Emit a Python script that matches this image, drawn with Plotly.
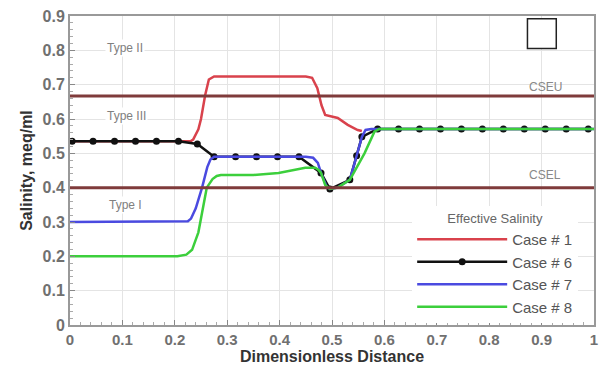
import plotly.graph_objects as go

# ---- data ----
x_case1 = [0.0, 0.23, 0.235, 0.245, 0.25, 0.258, 0.265, 0.275, 0.45, 0.462, 0.472, 0.48, 0.487, 0.5, 0.511, 0.53, 0.549, 0.557]
y_case1 = [0.535, 0.535, 0.54, 0.57, 0.60, 0.67, 0.715, 0.724, 0.724, 0.72, 0.69, 0.64, 0.612, 0.607, 0.603, 0.583, 0.568, 0.565]

x_case6 = [0.004, 0.044, 0.085, 0.125, 0.165, 0.207, 0.243, 0.275, 0.316, 0.356, 0.396, 0.437, 0.479, 0.496, 0.534, 0.547, 0.557, 0.587,
           0.627, 0.667, 0.707, 0.747, 0.787, 0.827, 0.867, 0.907, 0.947, 0.989]
y_case6 = [0.535, 0.535, 0.535, 0.535, 0.535, 0.535, 0.527, 0.49, 0.49, 0.49, 0.49, 0.49, 0.443, 0.396, 0.423, 0.493, 0.548, 0.571,
           0.571, 0.571, 0.571, 0.571, 0.571, 0.571, 0.571, 0.571, 0.571, 0.571]

x_case7 = [0.0, 0.215, 0.225, 0.231, 0.24, 0.252, 0.262, 0.268, 0.275, 0.45, 0.464, 0.473, 0.479, 0.49, 0.496, 0.511, 0.534, 0.547, 0.557, 0.564, 0.575, 1.0]
y_case7 = [0.30, 0.30, 0.302, 0.31, 0.34, 0.40, 0.46, 0.482, 0.49, 0.49, 0.487, 0.472, 0.443, 0.402, 0.396, 0.40, 0.423, 0.493, 0.548, 0.568, 0.571, 0.571]

x_case8 = [0.0, 0.205, 0.222, 0.233, 0.245, 0.261, 0.272, 0.28, 0.288, 0.35, 0.398, 0.449, 0.468, 0.474, 0.479, 0.487, 0.496, 0.511, 0.534, 0.562, 0.581, 0.59, 1.0]
y_case8 = [0.20, 0.20, 0.205, 0.219, 0.27, 0.40, 0.425, 0.434, 0.437, 0.437, 0.443, 0.458, 0.458, 0.452, 0.443, 0.408, 0.396, 0.40, 0.423, 0.50, 0.563, 0.571, 0.571]

cseu = 0.667
csel = 0.40

x_ticks = [0, 0.1, 0.2, 0.3, 0.4, 0.5, 0.6, 0.7, 0.8, 0.9, 1]
x_ticktext = ["0", "0.1", "0.2", "0.3", "0.4", "0.5", "0.6", "0.7", "0.8", "0.9", "1"]
y_ticks = [0, 0.1, 0.2, 0.3, 0.4, 0.5, 0.6, 0.7, 0.8, 0.9]
y_ticktext = ["0", "0.1", "0.2", "0.3", "0.4", "0.5", "0.6", "0.7", "0.8", "0.9"]

region_labels = ["Type II", "Type III", "Type I"]
region_x = [0.105, 0.107, 0.105]
region_y = [0.807, 0.609, 0.35]
limit_labels = ["CSEU", "CSEL"]
limit_x = [0.907, 0.907]
limit_y = [0.694, 0.437]

# ---- figure ----
FONT = "Liberation Sans, Arial, sans-serif"
fig = go.Figure()

# limit lines
fig.add_shape(type="line", xref="x", yref="y", x0=0, x1=1, y0=cseu, y1=cseu,
              line=dict(color="#7f3b3b", width=3), layer="above")
fig.add_shape(type="line", xref="x", yref="y", x0=0, x1=1, y0=csel, y1=csel,
              line=dict(color="#7f3b3b", width=3), layer="above")

fig.add_trace(go.Scatter(x=x_case1, y=y_case1, mode="lines", name="Case # 1",
                         line=dict(color="#d9424c", width=2.5)))
fig.add_trace(go.Scatter(x=x_case6, y=y_case6, mode="lines+markers", name="Case # 6",
                         line=dict(color="#111111", width=2.5),
                         marker=dict(color="#111111", size=7)))
fig.add_trace(go.Scatter(x=x_case7, y=y_case7, mode="lines", name="Case # 7",
                         line=dict(color="#4a4ae0", width=2.5)))
fig.add_trace(go.Scatter(x=x_case8, y=y_case8, mode="lines", name="Case # 8",
                         line=dict(color="#3ccf3c", width=2.5)))

for t, xx, yy in zip(region_labels, region_x, region_y):
    fig.add_annotation(x=xx, y=yy, text=t, showarrow=False, xref="x", yref="y",
                       font=dict(family=FONT, size=12, color="#808080"), bgcolor="white")
for t, xx, yy in zip(limit_labels, limit_x, limit_y):
    fig.add_annotation(x=xx, y=yy, text=t, showarrow=False, xref="x", yref="y",
                       font=dict(family=FONT, size=12, color="#888888"))

# empty square box top-right
fig.add_shape(type="rect", xref="x", yref="y", x0=0.873, x1=0.928, y0=0.805, y1=0.892,
              line=dict(color="#222222", width=1.5), fillcolor="white")

fig.update_layout(
    width=603, height=365,
    margin=dict(l=70, r=5, t=16, b=40),
    paper_bgcolor="white", plot_bgcolor="white",
    font=dict(family=FONT),
    showlegend=True,
    legend=dict(
        x=0.653, y=0.385, xanchor="left", yanchor="top",
        bgcolor="white", borderwidth=0,
        itemwidth=90,
        font=dict(family=FONT, size=15, color="#555555"),
        title=dict(text="Effective Salinity", side="top center",
                   font=dict(family=FONT, size=13, color="#666666")),
        tracegroupgap=0,
    ),
)

fig.update_xaxes(
    range=[0, 1], tickvals=x_ticks, ticktext=x_ticktext,
    showgrid=True, gridcolor="#e4e4e4", gridwidth=1,
    ticks="inside", ticklen=5, tickcolor="#888888",
    minor=dict(ticks="inside", dtick=0.02, ticklen=3, tickcolor="#aaaaaa", showgrid=False),
    showline=True, linecolor="#999999", linewidth=2, mirror=True,
    tickfont=dict(family=FONT, size=15, color="#707070", weight="bold"),
    title=dict(text="<b>Dimensionless Distance</b>", standoff=1,
               font=dict(family=FONT, size=16, color="#333333")),
    zeroline=False,
)
fig.update_yaxes(
    range=[0, 0.9], tickvals=y_ticks, ticktext=y_ticktext,
    showgrid=True, gridcolor="#e4e4e4", gridwidth=1,
    ticks="inside", ticklen=5, tickcolor="#888888",
    minor=dict(ticks="inside", dtick=0.02, ticklen=3, tickcolor="#aaaaaa", showgrid=False),
    showline=True, linecolor="#999999", linewidth=2, mirror=True,
    tickfont=dict(family=FONT, size=16, color="#707070", weight="bold"),
    title=dict(text="<b>Salinity, meq/ml</b>", standoff=6,
               font=dict(family=FONT, size=16, color="#333333")),
    zeroline=False,
)

fig.write_html("out.html")
